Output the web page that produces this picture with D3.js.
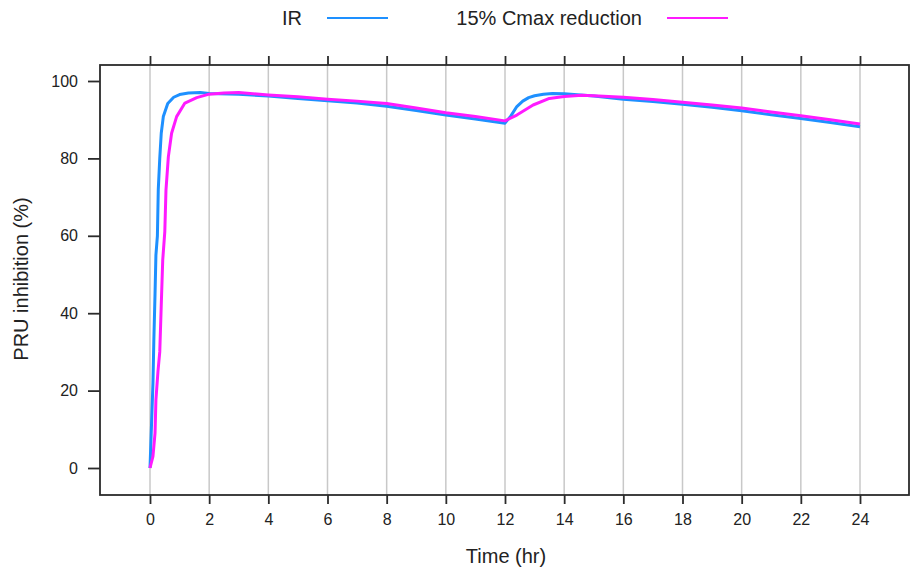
<!DOCTYPE html>
<html>
<head>
<meta charset="utf-8">
<script src="https://cdn.jsdelivr.net/npm/d3@7"></script>
<style>
  html, body { margin: 0; padding: 0; background: #fff; }
  svg { display: block; font-family: "Liberation Sans", Arial, sans-serif; }
</style>
</head>
<body>
<svg id="chart" width="912" height="571"></svg>
<script>
// ---- data ----
const seriesNames = ["IR", "15% Cmax reduction"];
const seriesColors = ["#1E90FF", "#FF1AFF"];

const irTime = [0, 0.05, 0.1, 0.13, 0.17, 0.2, 0.25, 0.28, 0.33, 0.38, 0.45, 0.6, 0.8, 1.0, 1.3, 1.7, 2, 3, 4, 5, 6, 7, 8, 9, 10, 11, 12,
  12.2, 12.4, 12.6, 12.8, 13, 13.3, 13.6, 14, 15, 16, 17, 18, 19, 20, 21, 22, 23, 24];
const irValue = [0, 11, 22, 33, 45, 55, 60, 72, 80, 86.5, 90.8, 94.2, 95.8, 96.5, 96.9, 97.0, 96.8, 96.6, 96.1, 95.5, 94.9, 94.3, 93.5, 92.4, 91.2, 90.2, 89.1,
  91.0, 93.4, 94.8, 95.7, 96.2, 96.6, 96.8, 96.7, 96.1, 95.3, 94.7, 94.0, 93.2, 92.3, 91.3, 90.3, 89.3, 88.2];

const redTime = [0, 0.1, 0.17, 0.2, 0.27, 0.33, 0.38, 0.43, 0.5, 0.54, 0.62, 0.73, 0.9, 1.18, 1.58, 2, 2.5, 3, 4, 5, 6, 7, 8, 9, 10, 11, 12,
  12.4, 12.95, 13.5, 14, 14.6, 15, 16, 17, 18, 19, 20, 21, 22, 23, 24];
const redValue = [0, 3, 9, 17.6, 25, 30, 42, 53.7, 61, 71.8, 80.4, 86.5, 90.8, 94.3, 95.7, 96.6, 96.9, 97.0, 96.4, 95.9, 95.3, 94.8, 94.2, 93.0, 91.8, 90.8, 89.7,
  91.2, 93.8, 95.5, 96.0, 96.3, 96.2, 95.8, 95.2, 94.5, 93.8, 93.0, 92.0, 91.0, 90.0, 88.9];

const xTicks = [0, 2, 4, 6, 8, 10, 12, 14, 16, 18, 20, 22, 24];
const yTicks = [0, 20, 40, 60, 80, 100];
const xTitle = "Time (hr)";
const yTitle = "PRU inhibition (%)";

// ---- layout ----
const svg = d3.select("#chart");
const box = { left: 100, right: 909, top: 65, bottom: 495 };
const x = d3.scaleLinear().domain([0, 24]).range([150, 860]);
const y = d3.scaleLinear().domain([0, 100]).range([468, 81]);
const ink = "#222";

// grid lines
svg.append("g").selectAll("line").data(xTicks).join("line")
  .attr("x1", d => x(d)).attr("x2", d => x(d))
  .attr("y1", box.top).attr("y2", box.bottom)
  .attr("stroke", "#c8c8c8").attr("stroke-width", 1.5);

// series
const line = d3.line().x(d => x(d[0])).y(d => y(d[1]));
const series = [
  d3.zip(irTime, irValue),
  d3.zip(redTime, redValue)
];
series.forEach((s, i) => {
  svg.append("path").datum(s)
    .attr("d", line)
    .attr("fill", "none")
    .attr("stroke", seriesColors[i])
    .attr("stroke-width", 3)
    .attr("stroke-linejoin", "round");
});

// box
svg.append("rect")
  .attr("x", box.left).attr("y", box.top)
  .attr("width", box.right - box.left).attr("height", box.bottom - box.top)
  .attr("fill", "none").attr("stroke", "#2b2b2b").attr("stroke-width", 1.8);

// bottom axis
const xAxis = d3.axisBottom(x).tickValues(xTicks).tickSize(9).tickPadding(10).tickFormat(d3.format("d"));
const gx = svg.append("g").attr("transform", `translate(0,${box.bottom})`).call(xAxis);
gx.select(".domain").remove();
gx.selectAll(".tick line").attr("stroke", "#2b2b2b").attr("stroke-width", 1.8);
gx.selectAll(".tick text").attr("font-size", 16).attr("fill", ink).attr("font-family", "Liberation Sans, Arial, sans-serif");

// top axis (ticks only)
const xTop = d3.axisTop(x).tickValues(xTicks).tickSize(9).tickFormat("");
const gt = svg.append("g").attr("transform", `translate(0,${box.top})`).call(xTop);
gt.select(".domain").remove();
gt.selectAll(".tick line").attr("stroke", "#2b2b2b").attr("stroke-width", 1.8);

// left axis
const yAxis = d3.axisLeft(y).tickValues(yTicks).tickSize(12).tickPadding(10).tickFormat(d3.format("d"));
const gy = svg.append("g").attr("transform", `translate(${box.left},0)`).call(yAxis);
gy.select(".domain").remove();
gy.selectAll(".tick line").attr("stroke", "#2b2b2b").attr("stroke-width", 1.8);
gy.selectAll(".tick text").attr("font-size", 16).attr("fill", ink).attr("font-family", "Liberation Sans, Arial, sans-serif");

// axis titles
svg.append("text").attr("x", 506).attr("y", 563)
  .attr("text-anchor", "middle").attr("font-size", 20).attr("fill", ink).text(xTitle);
svg.append("text").attr("transform", "translate(28,279) rotate(-90)")
  .attr("text-anchor", "middle").attr("font-size", 20).attr("fill", ink).text(yTitle);

// legend
const legend = [
  { textX: 302, lineX1: 327, lineX2: 388 },
  { textX: 642, lineX1: 667, lineX2: 728 }
];
legend.forEach((l, i) => {
  svg.append("text").attr("x", l.textX).attr("y", 25)
    .attr("text-anchor", "end").attr("font-size", 20).attr("fill", ink).text(seriesNames[i]);
  svg.append("line").attr("x1", l.lineX1).attr("x2", l.lineX2).attr("y1", 18).attr("y2", 18)
    .attr("stroke", seriesColors[i]).attr("stroke-width", 2.2);
});
</script>
</body>
</html>
